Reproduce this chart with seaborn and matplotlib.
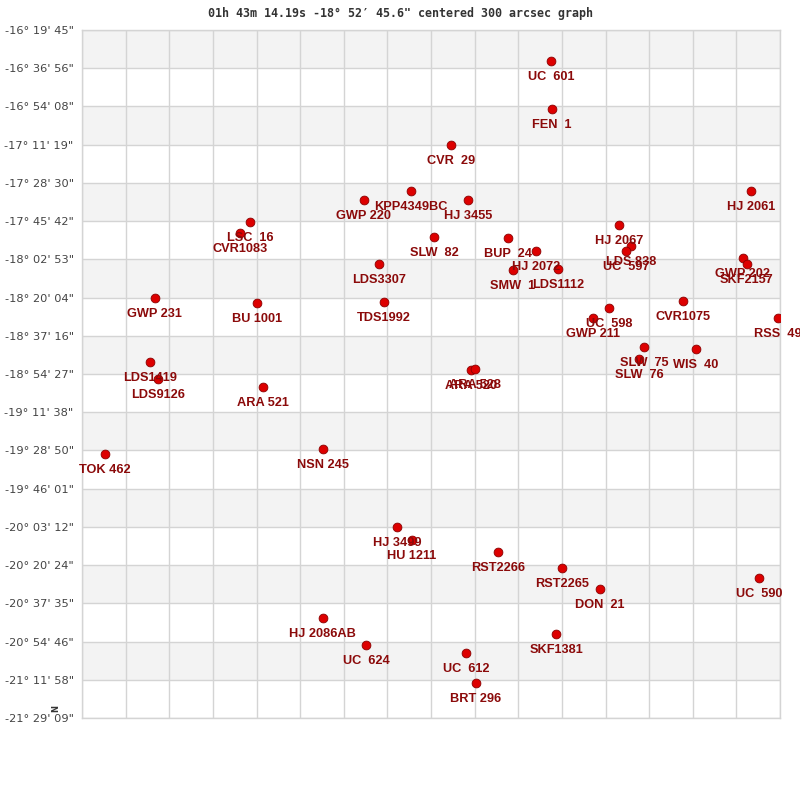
import numpy as np
import pandas as pd
import matplotlib
matplotlib.use("Agg")
import matplotlib.pyplot as plt
import seaborn as sns

# star names, RA offset (grid units, 0..16) and declination (deg)
names = ["UC  601", "FEN  1", "CVR  29", "KPP4349BC", "GWP 220", "HJ 3455", "HJ 2061",
         "LSC  16", "CVR1083", "SLW  82", "BUP  24", "HJ 2072", "SMW  1", "LDS1112",
         "HJ 2067", "LDS 838", "UC  597", "GWP 202", "SKF2157", "LDS3307", "GWP 231",
         "BU 1001", "TDS1992", "UC  598", "CVR1075", "RSS  49", "GWP 211", "SLW  75",
         "SLW  76", "WIS  40", "ARA 520", "ARA 528", "LDS1419", "LDS9126", "ARA 521",
         "TOK 462", "NSN 245", "HJ 3499", "HU 1211", "RST2266", "RST2265", "DON  21",
         "UC  590", "HJ 2086AB", "UC  624", "UC  612", "BRT 296", "SKF1381"]
ra_off = [10.75, 10.77, 8.46, 7.54, 6.46, 8.85, 15.34,
          3.85, 3.62, 8.07, 9.77, 10.41, 9.88, 10.91,
          12.31, 12.58, 12.47, 15.15, 15.24, 6.81, 1.67,
          4.01, 6.92, 12.08, 13.78, 15.95, 11.71, 12.88,
          12.77, 14.07, 8.92, 9.01, 1.56, 1.74, 4.15,
          0.53, 5.52, 7.22, 7.56, 9.54, 11.00, 11.87,
          15.52, 5.52, 6.51, 8.80, 9.03, 10.87]
dec = [-16.5615, -16.9213, -17.1911, -17.5359, -17.6034, -17.6034, -17.5359,
       -17.7683, -17.8507, -17.8807, -17.8882, -17.9856, -18.1280, -18.1205,
       -17.7907, -17.9481, -17.9856, -18.0381, -18.0831, -18.0831, -18.3379,
       -18.3754, -18.3679, -18.4128, -18.3604, -18.4878, -18.4878, -18.7051,
       -18.7951, -18.7201, -18.8775, -18.8700, -18.8176, -18.9450, -19.0050,
       -19.5071, -19.4696, -20.0543, -20.1517, -20.2416, -20.3616, -20.5190,
       -20.4365, -20.7363, -20.9387, -20.9986, -21.2235, -20.8562]

dec_top = -(16 * 3600 + 19 * 60 + 45) / 3600.0
dec_bottom = -(21 * 3600 + 29 * 60 + 9) / 3600.0
n_steps = 18

title = "01h 43m 14.19s -18° 52′ 45.6\" centered 300 arcsec graph"


def fmt_dec(v):
    s = int(round(abs(v) * 3600))
    d, rem = divmod(s, 3600)
    m, sec = divmod(rem, 60)
    return f"-{d}° {m:02d}' {sec:02d}\""


df = pd.DataFrame({"name": names, "ra": ra_off, "dec": dec})

sns.set_theme(style="white")
plt.rcParams['font.family'] = ['DejaVu Sans']

fig = plt.figure(figsize=(8, 8), dpi=100)
ax = fig.add_axes([82 / 800, 82 / 800, 698 / 800, 688 / 800])

yticks = np.linspace(dec_top, dec_bottom, n_steps + 1)
for i in range(n_steps):
    if i % 2 == 0:
        ax.axhspan(yticks[i + 1], yticks[i], color='#f3f3f3', lw=0, zorder=0)

ax.set_xlim(0, 16)
ax.set_ylim(dec_bottom, dec_top)
ax.set_xticks(np.arange(0, 17))
ax.set_xticklabels([])
ax.set_yticks(yticks)
ax.set_yticklabels([fmt_dec(v) for v in yticks], fontsize=8.2, color='#444444')
ax.tick_params(axis='both', length=0, pad=6)
ax.grid(True, color='#d4d4d4', lw=1, zorder=1)
ax.set_axisbelow(True)
for sp in ax.spines.values():
    sp.set_color('#d4d4d4')
    sp.set_linewidth(1)

sns.scatterplot(data=df, x='ra', y='dec', ax=ax, s=40, color='#dd0000',
                edgecolor='#8a0000', linewidth=0.6, zorder=3, legend=False)
ax.set_xlabel('')
ax.set_ylabel('')

for _, r in df.iterrows():
    ax.annotate(r['name'], (r['ra'], r['dec']), xytext=(0, -16), textcoords='offset pixels',
                ha='center', va='center', fontsize=9.2, fontweight='bold',
                color='#8b0a0a', family='Liberation Sans', zorder=4, annotation_clip=False)

fig.text(0.5, 1 - 13 / 800, title, ha='center', va='center', fontsize=8.4,
         fontweight='bold', family='DejaVu Sans Mono', color='#333333')
fig.text(56 / 800, 1 - 708 / 800, 'N', rotation=90, ha='center', va='center',
         fontsize=6, fontweight='bold', color='#333333')

fig.savefig('out.png', dpi=100)
